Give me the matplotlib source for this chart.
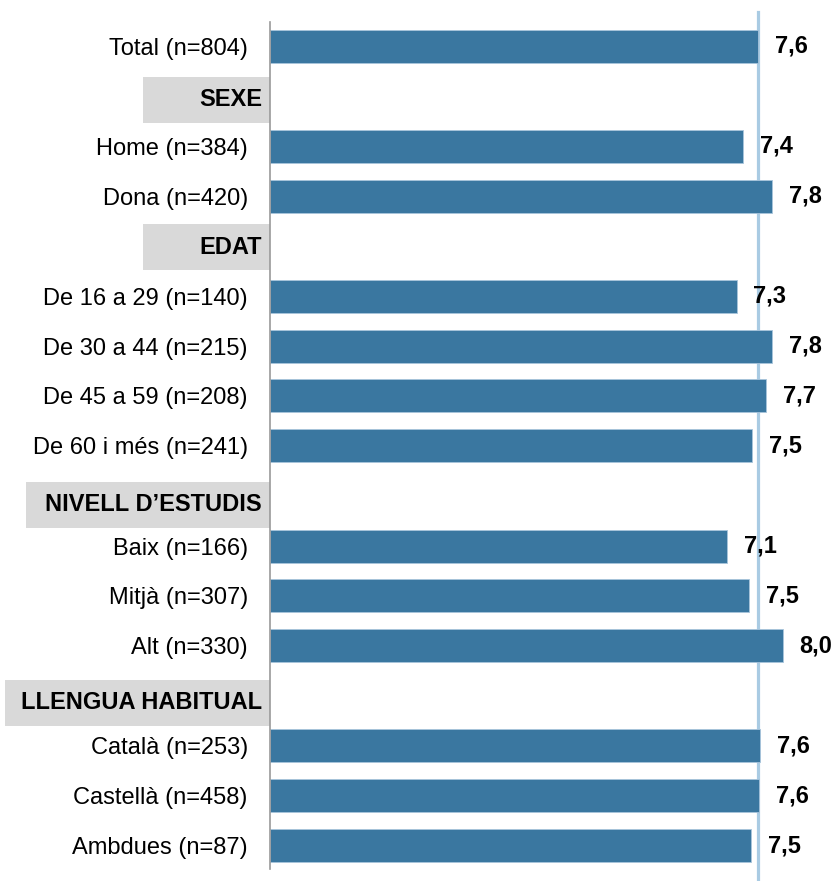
import matplotlib.pyplot as plt
import matplotlib.transforms as mtransforms
from matplotlib.patches import Rectangle

plt.rcParams['font.family'] = ['Liberation Sans', 'DejaVu Sans']

# --- dades ---
total_label = 'Total (n=804)'
total_value = 7.60

group_names = ['SEXE', 'EDAT', 'NIVELL D\u2019ESTUDIS', 'LLENGUA HABITUAL']
group_items = [
    ['Home (n=384)', 'Dona (n=420)'],
    ['De 16 a 29 (n=140)', 'De 30 a 44 (n=215)', 'De 45 a 59 (n=208)', 'De 60 i més (n=241)'],
    ['Baix (n=166)', 'Mitjà (n=307)', 'Alt (n=330)'],
    ['Català (n=253)', 'Castellà (n=458)', 'Ambdues (n=87)'],
]
group_values = [
    [7.37, 7.82],
    [7.27, 7.82, 7.73, 7.51],
    [7.12, 7.46, 7.99],
    [7.63, 7.62, 7.49],
]

# --- estil / disposició ---
W, H = 835, 881
BAR_COLOR = '#3a77a0'
REF_COLOR = '#a9cbe3'
BOX_COLOR = '#d9d9d9'
FS = 17
box_left_px = [143, 143, 26, 5]      # vora esquerra de cada requadre de capçalera
box_shift = [0.08, 0.02, 0.18, 0.14]  # petit desplaçament vertical de les capçaleres

# construir files: total, capçalera, elements...
labels, values, ypos = [total_label], [total_value], [0]
header_pos = []
row = 1
for name, items, vals in zip(group_names, group_items, group_values):
    header_pos.append(row)
    row += 1
    for lab, v in zip(items, vals):
        labels.append(lab)
        values.append(v)
        ypos.append(row)
        row += 1

fig = plt.figure(figsize=(W / 100, H / 100), dpi=100)
ax = fig.add_axes([270 / W, 1 - 869 / H, 1 - 270 / W, (869 - 22) / H])

ax.barh(ypos, values, height=0.66, color=BAR_COLOR, edgecolor='#a8c5dc', linewidth=0.6, zorder=2)

for y, v in zip(ypos, values):
    ax.text(v + 0.26, y, f'{v:.1f}'.replace('.', ','), ha='left', va='center',
            fontsize=FS, fontweight='bold', color='black')

# línia de referència (total)
ax.plot([total_value, total_value], [-0.68, 16.7], color=REF_COLOR, linewidth=2.3,
        clip_on=False, zorder=1)

# capçaleres de grup
trans = mtransforms.blended_transform_factory(fig.transFigure, ax.transData)
for name, y, left, dy in zip(group_names, header_pos, box_left_px, box_shift):
    yc = y + dy
    ax.add_patch(Rectangle((left / W, yc - 0.46), (270 - left) / W, 0.92, transform=trans,
                           facecolor=BOX_COLOR, edgecolor='none', clip_on=False, zorder=0))
    ax.text(262 / W, yc, name, transform=trans, ha='right', va='center',
            fontsize=FS, fontweight='bold', color='black')

ax.set_xlim(0, 8.8)
ax.set_ylim(16.46, -0.48)
ax.set_yticks(ypos, labels)
ax.tick_params(axis='y', length=0, pad=16, labelsize=FS)
ax.set_xticks([])
for side in ['top', 'right', 'bottom']:
    ax.spines[side].set_visible(False)
ax.spines['left'].set_color('#9a9a9a')
ax.spines['left'].set_linewidth(1.2)
ax.set_facecolor('none')

fig.savefig('out.png', dpi=100)
